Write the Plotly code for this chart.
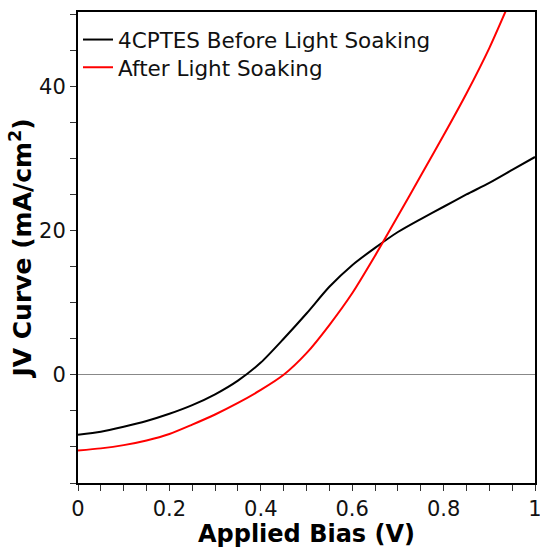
import plotly.graph_objects as go

bias = [0.0, 0.05, 0.1, 0.15, 0.2, 0.25, 0.3, 0.35, 0.4, 0.45, 0.5,
        0.55, 0.6, 0.65, 0.7, 0.75, 0.8, 0.85, 0.9, 0.95, 1.0]

before_soak = [-8.3, -7.9, -7.2, -6.4, -5.4, -4.2, -2.7, -0.8, 1.7, 5.0, 8.5,
               12.2, 15.2, 17.6, 19.8, 21.6, 23.3, 25.0, 26.6, 28.4, 30.2]

after_soak = [-10.5, -10.2, -9.75, -9.1, -8.2, -6.9, -5.5, -3.9, -2.1, 0.0, 3.0,
              6.9, 11.3, 16.5, 22.0, 27.6, 33.2, 39.0, 45.3, 52.5]

series_names = ["4CPTES Before Light Soaking", "After Light Soaking"]

fig = go.Figure()
fig.add_trace(go.Scatter(x=bias, y=before_soak, mode="lines", name=series_names[0],
                         legend="legend",
                         line=dict(color="black", width=2, shape="spline", smoothing=0.7)))
fig.add_trace(go.Scatter(x=bias[:len(after_soak)], y=after_soak, mode="lines", name=series_names[1],
                         legend="legend2",
                         line=dict(color="#ff0000", width=2, shape="spline", smoothing=0.7)))

leg_font = dict(size=21.5, family="DejaVu Sans", color="#111")
fig.update_layout(
    width=540, height=548,
    margin=dict(l=78, r=5, t=12, b=65),
    paper_bgcolor="white", plot_bgcolor="white",
    font=dict(family="DejaVu Sans", color="#111"),
    showlegend=True,
    legend=dict(x=0.0, y=0.985, xanchor="left", yanchor="top", font=leg_font,
                bgcolor="rgba(0,0,0,0)"),
    legend2=dict(x=0.0, y=0.926, xanchor="left", yanchor="top", font=leg_font,
                 bgcolor="rgba(0,0,0,0)"),
)

fig.update_xaxes(
    range=[0, 1], dtick=0.2, tick0=0, tickformat="~g", automargin=False,
    ticklabeloverflow="allow",
    ticks="outside", ticklen=6, tickwidth=1, tickcolor="#333",
    minor=dict(dtick=0.05, ticks="outside", ticklen=6, tickwidth=1, tickcolor="#333"),
    showgrid=False, zeroline=False,
    showline=True, linecolor="black", linewidth=2, mirror=True,
    tickfont=dict(size=21, family="DejaVu Sans", color="#111"),
    title=dict(text="<b>Applied Bias (V)</b>", font=dict(size=24, family="DejaVu Sans", color="black"),
               standoff=4),
)
fig.update_yaxes(
    range=[-15, 50.3], dtick=20, tick0=0, automargin=False,
    ticks="outside", ticklen=6, tickwidth=1, tickcolor="#333",
    minor=dict(dtick=5, ticks="outside", ticklen=6, tickwidth=1, tickcolor="#333"),
    showgrid=False, zeroline=True, zerolinecolor="#888", zerolinewidth=1,
    showline=True, linecolor="black", linewidth=2, mirror=True,
    tickfont=dict(size=21, family="DejaVu Sans", color="#111"),
    title=dict(text="<b>JV Curve (mA/cm<sup>2</sup>)</b>", font=dict(size=25, family="DejaVu Sans", color="black"),
               standoff=0),
)

fig.write_html("out.html")
